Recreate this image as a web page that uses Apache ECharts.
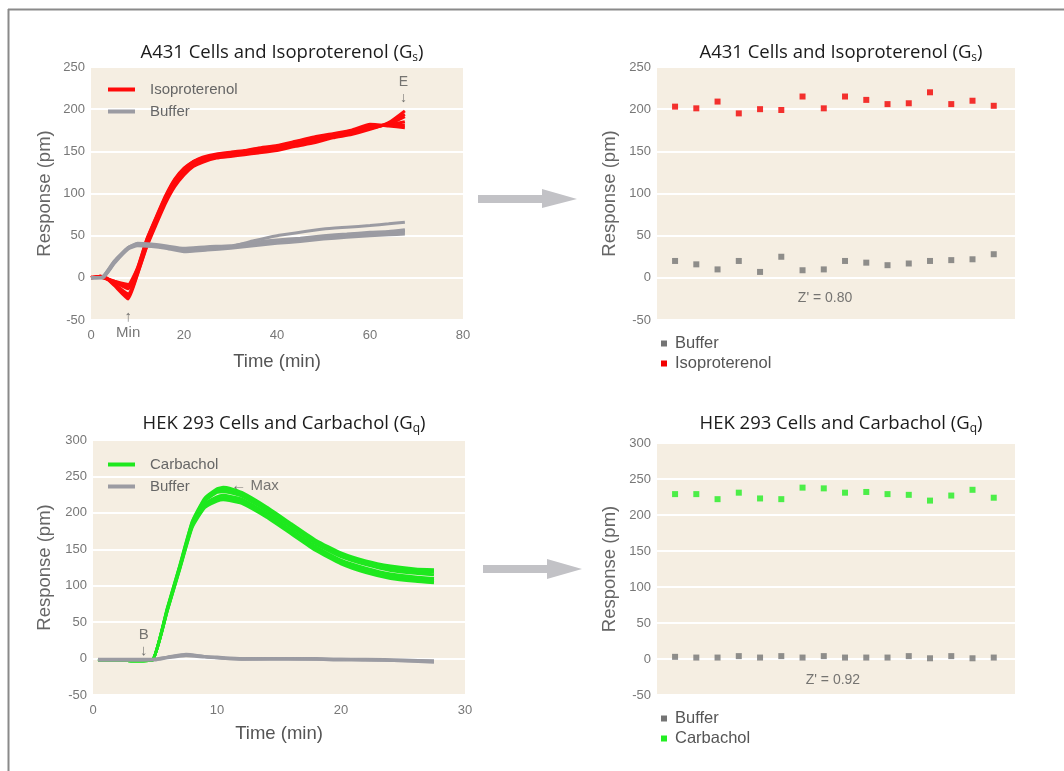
<!DOCTYPE html>
<html>
<head>
<meta charset="utf-8">
<title>Label-free cell assays</title>
<script src="https://cdn.jsdelivr.net/npm/echarts@6/dist/echarts.min.js"></script>
<style>
  html, body { margin: 0; padding: 0; background: #fff; }
  #main { width: 1064px; height: 771px; }
</style>
</head>
<body>
<div id="main"></div>
<script>
// ---- A431 + Isoproterenol kinetic traces (min, pm) ----
var isoTime = [0, 2, 3, 5, 8, 10, 12, 14, 16, 18, 20, 22, 24, 27, 30, 33, 36, 40, 44, 48, 52, 56, 60, 64, 67.5];
var isoRep1 = [0, 2, 1, -9, -25, 4, 37, 63, 88, 108, 122, 132, 137, 142, 144, 146, 148, 151, 156, 160, 166, 170, 176, 184, 198];
var isoRep2 = [0, 1, 0, -7, -19, 7, 40, 66, 91, 111, 125, 134, 139, 144, 146, 148, 150, 153, 158, 163, 168, 172, 178, 182, 191];
var isoRep3 = [0, 2, 0, -5, -13, 9, 43, 69, 94, 114, 128, 137, 141, 146, 147, 150, 152, 155, 161, 165, 169, 174, 180, 181, 185];
var isoRep4 = [1, 1, -1, -4, -8, 12, 46, 72, 97, 117, 130, 138, 143, 147, 149, 151, 154, 157, 162, 167, 171, 175, 182, 180, 178];
var isoRep5 = [0, 1, 1, -8, -22, 5, 38, 65, 90, 110, 124, 133, 138, 143, 145, 147, 149, 152, 157, 162, 167, 171, 177, 183, 194];
var isoRep6 = [0, 2, 0, -4, -10, 11, 45, 71, 96, 116, 129, 138, 142, 146, 148, 150, 153, 156, 161, 166, 170, 174, 180, 181, 181];

var bufATime = [0, 2.5, 5, 8, 10, 13, 16, 20, 25, 30, 35, 40, 45, 50, 55, 60, 64, 67.5];
var bufARep1 = [0, 0, 18, 35, 39, 38, 36, 33, 35, 36, 40, 43, 45, 48, 50, 52, 53, 54];
var bufARep2 = [0, 1, 20, 36, 40, 39, 37, 34, 36, 37, 41, 44, 46, 49, 51, 53, 54, 56];
var bufARep3 = [0, 0, 17, 34, 38, 37, 35, 31, 33, 35, 38, 41, 43, 46, 48, 50, 51, 52];
var bufARep4 = [0, 0, 19, 35, 39, 38, 36, 33, 35, 37, 44, 50, 54, 58, 60, 62, 64, 66];
var bufARep5 = [0, 1, 19, 36, 41, 40, 38, 35, 37, 38, 42, 45, 47, 50, 52, 54, 55, 57];

// ---- HEK 293 + Carbachol kinetic traces ----
var carbTime = [0.4, 2, 3.5, 4.8, 6, 7, 8, 9, 10, 10.5, 11, 12, 14, 16, 18, 20, 22, 24, 26, 27.5];
var carbRep1 = [-2, -2, -3, -2, 70, 128, 188, 220, 233, 235, 234, 228, 208, 185, 162, 145, 134, 127, 123, 122];
var carbRep2 = [-2, -2, -3, -2, 68, 126, 185, 216, 228, 229, 228, 223, 203, 180, 157, 140, 129, 121, 117, 115];
var carbRep3 = [-2, -2, -3, -2, 67, 125, 183, 212, 222, 224, 223, 219, 199, 176, 153, 135, 124, 116, 112, 110];
var carbRep4 = [-2, -2, -3, -2, 66, 123, 180, 207, 216, 218, 217, 213, 194, 171, 148, 130, 118, 110, 106, 104];
var carbRep5 = [-2, -2, -3, -2, 69, 127, 187, 218, 231, 232, 231, 226, 206, 183, 160, 143, 132, 124, 120, 119];
var carbRep6 = [-2, -2, -3, -2, 67, 124, 182, 210, 219, 221, 220, 216, 197, 174, 151, 133, 121, 113, 109, 107];

var bufBTime = [0.4, 2, 4, 5, 6, 7.5, 9, 10, 12, 15, 18, 20, 22, 25, 27.5];
var bufBRep1 = [-2, -2, -2, -1, 2, 6, 3, 2, 0, 0, 0, -1, -1, -2, -3];
var bufBRep2 = [-2, -2, -2, -2, 1, 4, 2, 1, -1, -1, -1, -2, -2, -3, -4];
var bufBRep3 = [-1, -1, -1, -1, 2, 5, 3, 1, -1, 0, -1, -1, -2, -3, -5];

// ---- end-point responses per well ----
var wells = [1, 2, 3, 4, 5, 6, 7, 8, 9, 10, 11, 12, 13, 14, 15, 16];
var isoEnd   = [203, 201, 209, 195, 200, 199, 215, 201, 215, 211, 206, 207, 220, 206, 210, 204];
var bufAEnd  = [20, 16, 10, 20, 7, 25, 9, 10, 20, 18, 15, 17, 20, 21, 22, 28];
var carbEnd  = [229, 229, 222, 231, 223, 222, 238, 237, 231, 232, 229, 228, 220, 227, 235, 224];
var bufBEnd  = [3, 2, 2, 4, 2, 4, 2, 4, 2, 2, 2, 4, 1, 4, 1, 2];

var RED = '#ff0a0a', GREEN = '#1ee81e', GRAYLINE = '#9b9ba2', GRAYDOT = '#747474';
var BG = '#f5eee2';
var AXFONT = 'Liberation Sans';

function pairs(xs, ys) { return xs.map(function (x, i) { return [x, ys[i]]; }); }

function traces(name, xs, reps, color, idx) {
  return reps.map(function (r) {
    return {
      name: name, type: 'line', xAxisIndex: idx, yAxisIndex: idx,
      data: pairs(xs, r), showSymbol: false, symbol: 'none', smooth: 0.15,
      lineStyle: { color: color, width: 3 }, itemStyle: { color: color },
      z: 3, silent: true
    };
  });
}

function dots(name, ys, color, idx) {
  return {
    name: name, type: 'scatter', xAxisIndex: idx, yAxisIndex: idx,
    data: pairs(wells, ys), symbol: 'rect', symbolSize: 6,
    itemStyle: { color: color }, z: 4
  };
}

function note(idx, x, y, text, pos, size) {
  return {
    type: 'scatter', xAxisIndex: idx, yAxisIndex: idx, clip: false,
    data: [[x, y]], symbolSize: 0.1, silent: true, z: 6,
    itemStyle: { color: 'rgba(0,0,0,0)' },
    label: {
      show: true, position: pos || 'inside', formatter: text,
      color: '#555', fontSize: size || 14, fontFamily: AXFONT, lineHeight: 16
    }
  };
}

function title(text, cx, top) {
  return {
    text: text, left: cx, top: top, textAlign: 'center',
    textStyle: {
      fontFamily: 'Open Sans', fontSize: 18.5, fontWeight: 'normal', color: '#1b1b1b',
      rich: { s: { fontFamily: 'Open Sans', fontSize: 12, color: '#1b1b1b', padding: [10, 0, 0, 0] } }
    }
  };
}

function yAx(idx, min, max, gap) {
  return {
    type: 'value', gridIndex: idx, min: min, max: max, interval: 50,
    name: 'Response (pm)', nameLocation: 'middle', nameGap: gap,
    nameTextStyle: { fontFamily: AXFONT, fontSize: 18.5, color: '#666' },
    axisLine: { show: false }, axisTick: { show: false },
    axisLabel: { color: '#777', fontFamily: AXFONT, fontSize: 13, margin: 6 },
    splitLine: { show: true, lineStyle: { color: '#ffffff', width: 2 } }
  };
}

function xTime(idx, max, interval, gap) {
  return {
    type: 'value', gridIndex: idx, min: 0, max: max, interval: interval,
    name: 'Time (min)', nameLocation: 'middle', nameGap: gap,
    nameTextStyle: { fontFamily: AXFONT, fontSize: 18.5, color: '#555' },
    axisLine: { show: false }, axisTick: { show: false },
    axisLabel: { color: '#777', fontFamily: AXFONT, fontSize: 13, margin: 9 },
    splitLine: { show: false }
  };
}

function xWell(idx) {
  return {
    type: 'value', gridIndex: idx, min: 0.15, max: 17, show: false,
    splitLine: { show: false }
  };
}

function lineLegend(names, colors, left, top) {
  return {
    orient: 'vertical', left: left, top: top, icon: 'rect',
    itemWidth: 27, itemHeight: 4, itemGap: 7, selectedMode: false,
    textStyle: { fontFamily: AXFONT, fontSize: 15, color: '#666', padding: [0, 0, 0, 10] },
    data: names.map(function (n, i) { return { name: n, itemStyle: { color: colors[i] } }; })
  };
}

function dotLegend(names, colors, left, top) {
  return {
    orient: 'vertical', left: left, top: top, icon: 'rect',
    itemWidth: 6, itemHeight: 6, itemGap: 3, selectedMode: false,
    textStyle: { fontFamily: AXFONT, fontSize: 16.5, color: '#555', padding: [0, 0, 0, 3] },
    data: names.map(function (n, i) { return { name: n, itemStyle: { color: colors[i] } }; })
  };
}

var gridBase = { show: true, backgroundColor: BG, borderWidth: 0, containLabel: false };

var series = []
  .concat(traces('Isoproterenol', isoTime, [isoRep1, isoRep5, isoRep2, isoRep3, isoRep6, isoRep4], RED, 0))
  .concat(traces('Buffer', bufATime, [bufARep1, bufARep2, bufARep3, bufARep5, bufARep4], GRAYLINE, 0))
  .concat([dots('Buffer', bufAEnd, GRAYDOT, 1), dots('Isoproterenol', isoEnd, '#f20000', 1)])
  .concat(traces('Carbachol', carbTime, [carbRep1, carbRep5, carbRep2, carbRep3, carbRep6, carbRep4], GREEN, 2))
  .concat(traces('Buffer', bufBTime, [bufBRep1, bufBRep2, bufBRep3], GRAYLINE, 2))
  .concat([dots('Buffer', bufBEnd, GRAYDOT, 3), dots('Carbachol', carbEnd, '#22ee22', 3)])
  .concat([
    note(0, 67.2, 223, 'E\n↓'),
    note(0, 8, -56, '↑\nMin', 'inside', 15),
    note(2, 10.75, 237, '← Max', 'right', 15),
    note(2, 4.1, 22, 'B\n↓', 'inside', 15),
    note(1, 8.06, -24.5, "Z' = 0.80", 'inside', 14),
    note(3, 8.43, -30, "Z' = 0.92", 'inside', 14)
  ]);

var myChart = echarts.init(document.getElementById('main'));

var option = {
  backgroundColor: '#ffffff',
  animation: false,
  title: [
    title('A431 Cells and Isoproterenol (G{s|s})', 277, 37),
    title('A431 Cells and Isoproterenol (G{s|s})', 836, 37),
    title('HEK 293 Cells and Carbachol (G{s|q})', 279, 408),
    title('HEK 293 Cells and Carbachol (G{s|q})', 836, 408)
  ],
  legend: [
    lineLegend(['Isoproterenol', 'Buffer'], [RED, GRAYLINE], 103, 77),
    dotLegend(['Buffer', 'Isoproterenol'], [GRAYDOT, '#f20000'], 656, 330),
    lineLegend(['Carbachol', 'Buffer'], [GREEN, GRAYLINE], 103, 452),
    dotLegend(['Buffer', 'Carbachol'], [GRAYDOT, '#22ee22'], 656, 705)
  ],
  grid: [
    Object.assign({ left: 91, top: 67, width: 372, height: 253 }, gridBase),
    Object.assign({ left: 657, top: 67, width: 358, height: 253 }, gridBase),
    Object.assign({ left: 93, top: 440, width: 372, height: 255 }, gridBase),
    Object.assign({ left: 657, top: 443, width: 358, height: 252 }, gridBase)
  ],
  xAxis: [xTime(0, 80, 20, 32), xWell(1), xTime(2, 30, 10, 29), xWell(3)],
  yAxis: [yAx(0, -50, 250, 37), yAx(1, -50, 250, 38), yAx(2, -50, 300, 39), yAx(3, -50, 300, 38)],
  graphic: [
    { type: 'line', shape: { x1: 8, y1: 9.5, x2: 1064, y2: 9.5 }, style: { stroke: '#8a8a8a', lineWidth: 2 } },
    { type: 'line', shape: { x1: 8.5, y1: 9, x2: 8.5, y2: 771 }, style: { stroke: '#8a8a8a', lineWidth: 2 } },
    { type: 'polygon', shape: { points: [[478, 195], [542, 195], [542, 189], [577, 199], [542, 208], [542, 203], [478, 203]] }, style: { fill: '#c2c2c6' } },
    { type: 'polygon', shape: { points: [[483, 565], [547, 565], [547, 559], [582, 569], [547, 579], [547, 573], [483, 573]] }, style: { fill: '#c2c2c6' } }
  ],
  series: series
};

myChart.setOption(option);
</script>
</body>
</html>
